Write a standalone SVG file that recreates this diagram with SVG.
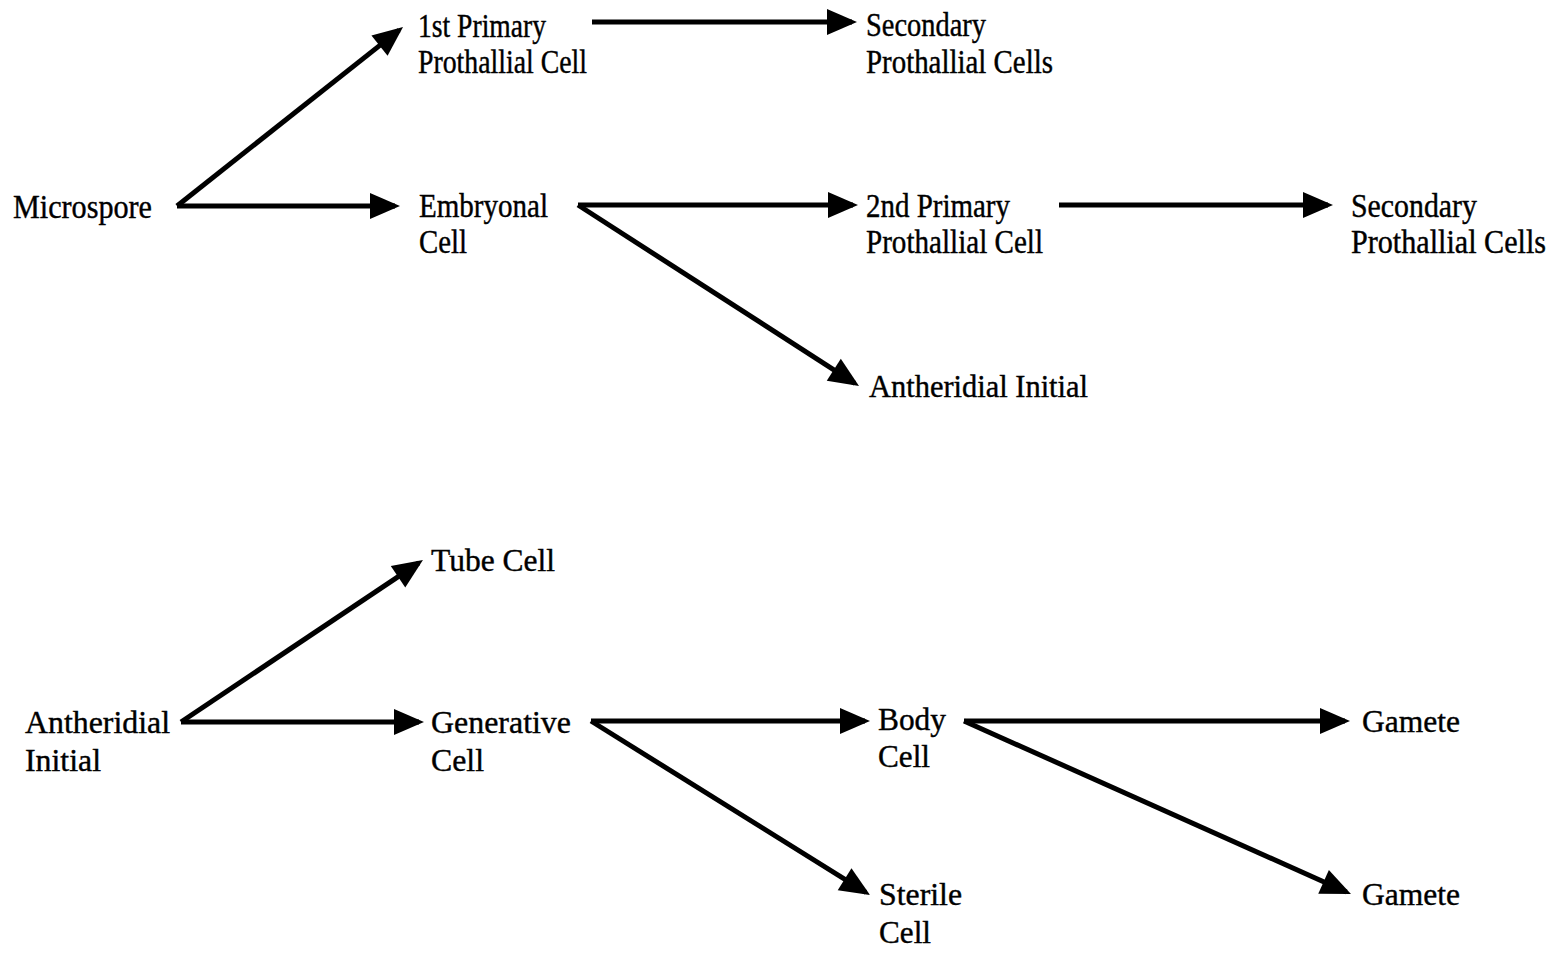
<svg xmlns="http://www.w3.org/2000/svg" width="1563" height="953" viewBox="0 0 1563 953">
  <defs>
    <marker id="ah" markerUnits="userSpaceOnUse" markerWidth="32" markerHeight="28" refX="25" refY="13" orient="auto" overflow="visible">
      <path d="M0,0 L30,13 L0,26 Z" fill="#000"/>
    </marker>
    <style>
      text { font-family: "Liberation Serif", "Times New Roman", serif; fill: #000; stroke: #000; stroke-width: 0.4; }
      .t { font-size: 32px; }
      .c { font-size: 33px; }
      .conn line { stroke: #000; stroke-width: 5; marker-end: url(#ah); }
    </style>
  </defs>
  <rect width="1563" height="953" fill="#fff"/>

  <g id="connectors" class="conn">
    <line x1="177" y1="206" x2="399.1" y2="30.1"/>
    <line x1="177" y1="206" x2="395" y2="206"/>
    <line x1="592" y1="22" x2="852" y2="22"/>
    <line x1="578" y1="205" x2="853" y2="205"/>
    <line x1="578" y1="205" x2="854.8" y2="383.3"/>
    <line x1="1059" y1="205" x2="1328" y2="205"/>
    <line x1="181" y1="722" x2="418.8" y2="562.8"/>
    <line x1="181" y1="722" x2="419" y2="722"/>
    <line x1="591" y1="721" x2="865" y2="721"/>
    <line x1="591" y1="721" x2="865.8" y2="892.4"/>
    <line x1="964" y1="721" x2="1345" y2="721"/>
    <line x1="964" y1="721" x2="1346.4" y2="892"/>
  </g>

  <g id="microspore"><text class="c" x="13" y="218" textLength="139" lengthAdjust="spacingAndGlyphs">Microspore</text></g>
  <g id="first-primary">
    <text class="c" x="418" y="37" textLength="128" lengthAdjust="spacingAndGlyphs">1st Primary</text>
    <text class="c" x="418" y="73" textLength="169" lengthAdjust="spacingAndGlyphs">Prothallial Cell</text>
  </g>
  <g id="secondary-1">
    <text class="c" x="866" y="36" textLength="120" lengthAdjust="spacingAndGlyphs">Secondary</text>
    <text class="c" x="866" y="73" textLength="187" lengthAdjust="spacingAndGlyphs">Prothallial Cells</text>
  </g>
  <g id="embryonal">
    <text class="c" x="419" y="217" textLength="129" lengthAdjust="spacingAndGlyphs">Embryonal</text>
    <text class="c" x="419" y="253" textLength="48" lengthAdjust="spacingAndGlyphs">Cell</text>
  </g>
  <g id="second-primary">
    <text class="c" x="866" y="217" textLength="144" lengthAdjust="spacingAndGlyphs">2nd Primary</text>
    <text class="c" x="866" y="253" textLength="177" lengthAdjust="spacingAndGlyphs">Prothallial Cell</text>
  </g>
  <g id="secondary-2">
    <text class="c" x="1351" y="217" textLength="126" lengthAdjust="spacingAndGlyphs">Secondary</text>
    <text class="c" x="1351" y="253" textLength="195" lengthAdjust="spacingAndGlyphs">Prothallial Cells</text>
  </g>
  <g id="antheridial-initial-top"><text class="t" x="869" y="397" textLength="219" lengthAdjust="spacingAndGlyphs">Antheridial Initial</text></g>

  <g id="tube-cell"><text class="t" x="431" y="571" textLength="124" lengthAdjust="spacingAndGlyphs">Tube Cell</text></g>
  <g id="antheridial-initial">
    <text class="t" x="25" y="733" textLength="145" lengthAdjust="spacingAndGlyphs">Antheridial</text>
    <text class="t" x="25" y="771" textLength="76" lengthAdjust="spacingAndGlyphs">Initial</text>
  </g>
  <g id="generative">
    <text class="t" x="431" y="733" textLength="140" lengthAdjust="spacingAndGlyphs">Generative</text>
    <text class="t" x="431" y="771" textLength="53" lengthAdjust="spacingAndGlyphs">Cell</text>
  </g>
  <g id="body-cell">
    <text class="t" x="878" y="730" textLength="68" lengthAdjust="spacingAndGlyphs">Body</text>
    <text class="t" x="878" y="767" textLength="52" lengthAdjust="spacingAndGlyphs">Cell</text>
  </g>
  <g id="sterile-cell">
    <text class="t" x="879" y="905" textLength="83" lengthAdjust="spacingAndGlyphs">Sterile</text>
    <text class="t" x="879" y="943" textLength="52" lengthAdjust="spacingAndGlyphs">Cell</text>
  </g>
  <g id="gamete-1"><text class="t" x="1362" y="732" textLength="98" lengthAdjust="spacingAndGlyphs">Gamete</text></g>
  <g id="gamete-2"><text class="t" x="1362" y="905" textLength="98" lengthAdjust="spacingAndGlyphs">Gamete</text></g>
</svg>
